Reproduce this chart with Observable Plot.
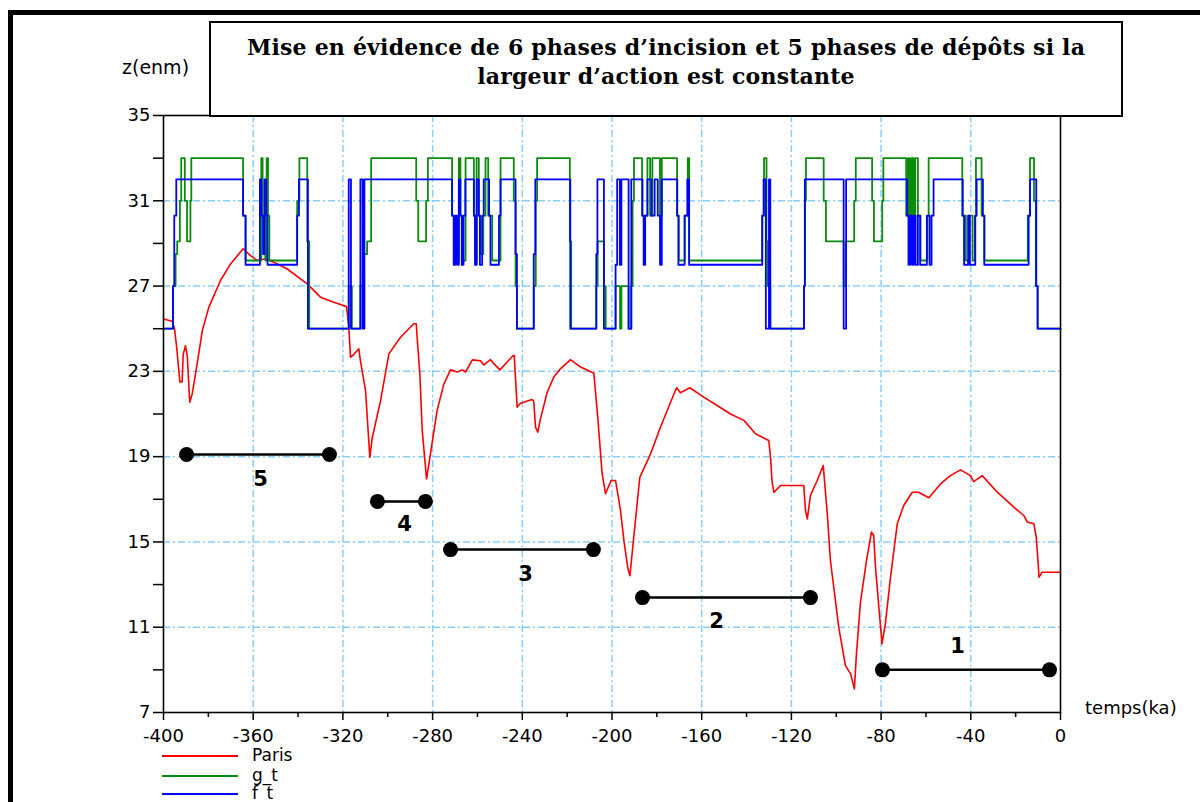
<!DOCTYPE html>
<html><head><meta charset="utf-8">
<script src="https://cdn.jsdelivr.net/npm/d3@7"></script>
<script src="https://cdn.jsdelivr.net/npm/@observablehq/plot@0.6"></script>
<style>
body{margin:0;background:#fff;}
#wrap{position:relative;width:1200px;height:802px;overflow:hidden;font-family:"DejaVu Sans",sans-serif;color:#000;}
#chart{position:absolute;left:0;top:0;}
#frame{position:absolute;left:8px;top:10px;width:1210px;height:810px;border:5px solid #000;box-sizing:border-box;}
#title{position:absolute;left:209px;top:21px;width:914px;height:96px;border:2px solid #000;box-sizing:border-box;background:#fff;
  font-family:"DejaVu Serif",serif;font-weight:bold;font-size:22px;letter-spacing:0.2px;line-height:29px;text-align:center;padding-top:10px;}
.lab{position:absolute;font-size:18px;line-height:22px;white-space:nowrap;}
.leg{position:absolute;height:0;border-top:2px solid;width:76px;left:162px;}
.legtxt{position:absolute;left:252px;font-size:17px;line-height:17px;white-space:nowrap;}
</style></head>
<body><div id="wrap"><div id="chart"></div></div>
<script>
// ---- data ----
const parisSeries = [[-400,25.46],[-396.1,25.35],[-395.1,25.0],[-394.2,24.2],[-392.7,22.5],[-391.7,22.5],[-391.2,23.8],[-390.2,24.2],[-389.4,23.74],[-388.3,21.55],[-387.2,21.94],[-385,23.35],[-382.7,24.9],[-379.8,26.0],[-374.6,27.26],[-370.1,28.04],[-364.5,28.75],[-361.2,28.43],[-358.2,28.2],[-354.5,28.28],[-350.8,28.12],[-344.8,27.8],[-338.9,27.34],[-335.9,27.1],[-330,26.48],[-324.1,26.24],[-318.4,26.04],[-317.4,25.15],[-316.6,23.66],[-315.1,23.8],[-312.9,24.06],[-312.2,23.5],[-309.9,22.1],[-308,18.97],[-306.9,19.9],[-303.2,21.63],[-299.5,23.82],[-294.3,24.6],[-288.4,25.23],[-287.3,25.23],[-286.9,24.6],[-285.7,22.9],[-284.6,20.2],[-282.7,17.96],[-281.2,18.97],[-278,21.16],[-275,22.4],[-272,23.07],[-269,22.97],[-266.8,23.07],[-265.3,22.97],[-262.3,23.54],[-258.6,23.5],[-257.2,23.3],[-254.2,23.55],[-252.7,23.36],[-250,23.07],[-244.1,23.74],[-243.6,23.74],[-242.3,21.32],[-240.8,21.5],[-235.6,21.68],[-234.9,21.6],[-234.1,20.38],[-233.1,20.15],[-231.9,20.77],[-228.9,22.02],[-226,22.72],[-223,23.12],[-218.5,23.55],[-214,23.2],[-208.1,22.91],[-206.3,20.77],[-204.4,18.2],[-202.9,17.26],[-200.4,17.88],[-198.4,17.88],[-196.2,16.47],[-194.7,15.07],[-192.9,13.74],[-192,13.42],[-190.3,15.22],[-187.6,18.03],[-182.8,19.13],[-178.4,20.38],[-173.9,21.55],[-171.2,22.23],[-169.5,22.0],[-165.3,22.23],[-159.1,21.79],[-153.1,21.4],[-147.2,21.0],[-141.2,20.7],[-136,20.07],[-130.1,19.76],[-129.3,18.97],[-128.6,17.8],[-127.8,17.33],[-124.7,17.65],[-114.5,17.65],[-113.7,16.47],[-112.9,16.08],[-111.5,17.18],[-108.5,17.88],[-105.8,18.58],[-104,16.32],[-102.6,14.13],[-98.9,11.0],[-95.9,9.2],[-93.6,8.81],[-91.9,8.1],[-91,9.75],[-89.2,12.17],[-86.5,14.13],[-84.3,15.46],[-83.3,15.3],[-82.5,13.81],[-81,11.94],[-79.6,10.22],[-78.1,11.16],[-75.8,13.34],[-72.8,15.85],[-69.9,16.71],[-66.1,17.33],[-63.3,17.33],[-58.7,17.07],[-53.5,17.72],[-49.1,18.11],[-44.6,18.38],[-40.1,18.11],[-38.7,17.83],[-34.9,18.11],[-28.9,17.41],[-20.8,16.63],[-16.4,16.24],[-14.8,15.93],[-11.9,15.85],[-10.8,15.22],[-9.9,13.89],[-9.6,13.34],[-8.2,13.58],[0,13.58]];

const gSeries = [[-400,25],[-395.7,27],[-394.6,28.5],[-393.9,29.1],[-392.7,31],[-392.1,33],[-390.5,31],[-389.5,29.1],[-388.0,31],[-387.6,33],[-364.5,30.3],[-363.4,28.2],[-356.4,33],[-355.8,30.3],[-354.6,28.2],[-354.0,33],[-353.4,30.3],[-352.8,28.2],[-340.4,31],[-339.4,33],[-335.9,29.1],[-335.0,25],[-317.4,27],[-316.0,25],[-312.2,27],[-310.8,28.5],[-309.2,29.1],[-307.4,33],[-287.3,31],[-286.4,29.1],[-282.9,31],[-282.1,33],[-271.3,30.3],[-270.5,28.2],[-268.3,33],[-267.6,30.3],[-266.8,28.2],[-265.3,33],[-261.6,30.3],[-260.9,28.2],[-260.4,33],[-259.4,30.3],[-258.6,28.5],[-257.4,30.3],[-256.4,33],[-255.2,30.3],[-253.4,28.2],[-249.7,33],[-243.8,31],[-243.0,27],[-242.4,25],[-234.9,27],[-234.0,31],[-233.4,33],[-218.8,29.1],[-218.2,25],[-207.0,27],[-206.4,29.1],[-203.6,27],[-202.8,25],[-198.4,27],[-196.4,25],[-195.8,27],[-192.6,25],[-191.4,27],[-190.8,31],[-190.2,33],[-186.6,30.3],[-184.2,33],[-183.0,30.3],[-182.0,33],[-178.6,30.3],[-177.8,33],[-171.0,30.3],[-170.2,28.2],[-167.6,30.3],[-166.2,33],[-165.6,28.2],[-133.0,30.3],[-132.2,33],[-131.1,29.1],[-130.6,27],[-129.4,25],[-114.4,27],[-114.0,31],[-113.5,33],[-105.6,31],[-104.6,29.1],[-96.7,27],[-95.6,29.1],[-92.0,31],[-91.3,33],[-84.0,31],[-83.2,29.1],[-79.5,31],[-79.0,33],[-68.8,30.3],[-68.0,33],[-67.2,30.3],[-66.4,33],[-65.6,30.3],[-64.8,33],[-63.6,30.3],[-62.4,28.2],[-59.4,30.3],[-58.8,33],[-43.8,30.3],[-42.2,28.2],[-40.8,30.3],[-39.2,28.2],[-38.2,30.3],[-37.7,33],[-35.2,30.3],[-33.9,28.2],[-14.6,30.3],[-13.6,33],[-11.8,31],[-11.0,27],[-10.2,25],[0,25]];

const fSeries = [[-400,25],[-395.8,27],[-395.2,30.3],[-394.3,32],[-364.5,30.3],[-363.4,28],[-357.0,32],[-356.4,30.3],[-355.6,28.5],[-355.0,32],[-354.2,30.3],[-353.6,28],[-340.4,30.3],[-339.6,32],[-335.6,25],[-317.4,32],[-316.4,25],[-312.2,32],[-311.2,25],[-310.4,32],[-271.3,30.3],[-270.6,28],[-269.8,30.3],[-269.0,28],[-268.3,32],[-267.6,30.3],[-267.0,28],[-266.2,30.3],[-265.4,32],[-261.6,30.3],[-261.1,28],[-260.3,32],[-259.4,30.3],[-258.9,28],[-257.9,30.3],[-257.2,32],[-254.8,30.3],[-254.2,28],[-250.4,30.3],[-249.7,32],[-243.0,28.5],[-242.4,25],[-234.9,28.5],[-234.2,32],[-218.6,25],[-207.0,28.5],[-206.5,32],[-203.6,25],[-198.4,28],[-197.7,32],[-196.5,28],[-195.8,32],[-192.6,25],[-191.4,32],[-186.4,30.3],[-185.9,28],[-185.2,30.3],[-184.2,32],[-182.4,30.3],[-181.0,32],[-179.6,30.3],[-178.6,28],[-177.8,32],[-170.9,30.3],[-170.4,28],[-167.6,30.3],[-166.4,32],[-165.6,28],[-133.0,30.3],[-132.4,32],[-131.4,25],[-130.0,32],[-129.4,25],[-114.4,27],[-114.0,32],[-96.7,25],[-95.6,32],[-68.4,30.3],[-67.8,28],[-67.0,30.3],[-66.2,28],[-65.4,30.3],[-64.6,28],[-63.6,30.3],[-62.6,28],[-59.6,30.3],[-58.4,28],[-57.5,30.3],[-56.6,32],[-43.6,30.3],[-43.0,28],[-41.2,30.3],[-40.4,28],[-38.0,30.3],[-37.4,32],[-34.6,30.3],[-34.0,28],[-14.2,30.3],[-13.6,32],[-10.8,27],[-10.2,25],[0,25]];

const phaseLabels = ["1", "2", "3", "4", "5"];
const phaseStart  = [-79.4, -186.4, -272.0, -304.6, -389.7];
const phaseEnd    = [-4.9, -111.5, -208.3, -283.2, -326.0];
const phaseLevel  = [9.0, 12.39, 14.64, 16.9, 19.1];
const labelTime   = [-45.9, -153.4, -238.6, -292.5, -356.7];
const labelLevel  = [10.1, 11.27, 13.47, 15.82, 17.93];

const xTickLabels = [-400, -360, -320, -280, -240, -200, -160, -120, -80, -40, 0];
const xMinorTicks = [-380, -340, -300, -260, -220, -180, -140, -100, -60, -20];
const yTickLabels = [35, 31, 27, 23, 19, 15, 11, 7];
const yMinorTicks = [33, 29, 25, 21, 17, 13, 9];
const xGridLines = [-360, -320, -280, -240, -200, -160, -120, -80, -40];
const yGridLines = [31, 27, 23, 19, 15, 11];

const seriesNames = ["Paris", "g_t", "f_t"];
const seriesColors = ["#ff0000", "#0a8c0a", "#0000ff"];

// ---- build ----
const toRows = s => s.map(([t, z]) => ({t, z}));
const phases = phaseLabels.map((label, i) => ({label, s: phaseStart[i], e: phaseEnd[i], z: phaseLevel[i], lt: labelTime[i], lz: labelLevel[i]}));
const phaseDots = phases.flatMap(p => [{t: p.s, z: p.z}, {t: p.e, z: p.z}]);
const gridStyle = {stroke: "#87cefa", strokeOpacity: 1, strokeWidth: 1.5, strokeDasharray: "7,3,2,3"};

const chart = Plot.plot({
  width: 1200, height: 802,
  marginLeft: 163, marginRight: 140, marginTop: 115, marginBottom: 90,
  x: {domain: [-400, 0], label: null},
  y: {domain: [7, 35], label: null},
  style: {fontFamily: "DejaVu Sans", fontSize: "18px", color: "#000", background: "transparent"},
  marks: [
    Plot.gridX(xGridLines, gridStyle),
    Plot.gridY(yGridLines, gridStyle),
    Plot.line(toRows(parisSeries), {x: "t", y: "z", stroke: seriesColors[0], strokeWidth: 1.6}),
    Plot.line(toRows(gSeries), {x: "t", y: "z", curve: "step-after", stroke: seriesColors[1], strokeWidth: 1.8}),
    Plot.line(toRows(fSeries), {x: "t", y: "z", curve: "step-after", stroke: seriesColors[2], strokeWidth: 1.8}),
    Plot.link(phases, {x1: "s", x2: "e", y1: "z", y2: "z", stroke: "#000", strokeWidth: 2.5}),
    Plot.dot(phaseDots, {x: "t", y: "z", r: 7.5, fill: "#000"}),
    Plot.text(phases, {x: "lt", y: "lz", text: "label", fontSize: 21, fontWeight: "bold", fill: "#000"}),
    Plot.frame({stroke: "#000", strokeWidth: 1.6}),
    Plot.axisX(xTickLabels, {tickSize: 8, tickPadding: 9, strokeWidth: 1.5, tickFormat: d => String(d), label: null}),
    Plot.axisX(xMinorTicks, {tickSize: 5, strokeWidth: 1.5, fill: "none", label: null}),
    Plot.axisY(yTickLabels, {tickSize: 10, tickPadding: 3, strokeWidth: 1.5, tickFormat: d => String(d), label: null}),
    Plot.axisY(yMinorTicks, {tickSize: 10, strokeWidth: 1.5, fill: "none", label: null})
  ]
});
const wrap = document.getElementById("wrap");
document.getElementById("chart").appendChild(chart);

function add(html) { wrap.insertAdjacentHTML("beforeend", html); }
add('<div id="frame"></div>');
add('<div id="title">Mise en évidence de 6 phases d’incision et 5 phases de dépôts si la<br>largeur d’action est constante</div>');
add('<div class="lab" style="left:122px;top:56px;font-size:19px;">z(enm)</div>');
add('<div class="lab" style="left:1085px;top:697px;">temps(ka)</div>');
const legY = [756, 776, 794];
seriesNames.forEach((name, i) => {
  add(`<div class="leg" style="top:${legY[i] - 1}px;border-color:${seriesColors[i]};"></div>`);
  add(`<div class="legtxt" style="top:${legY[i] - 9}px;">${name}</div>`);
});
</script></body></html>
